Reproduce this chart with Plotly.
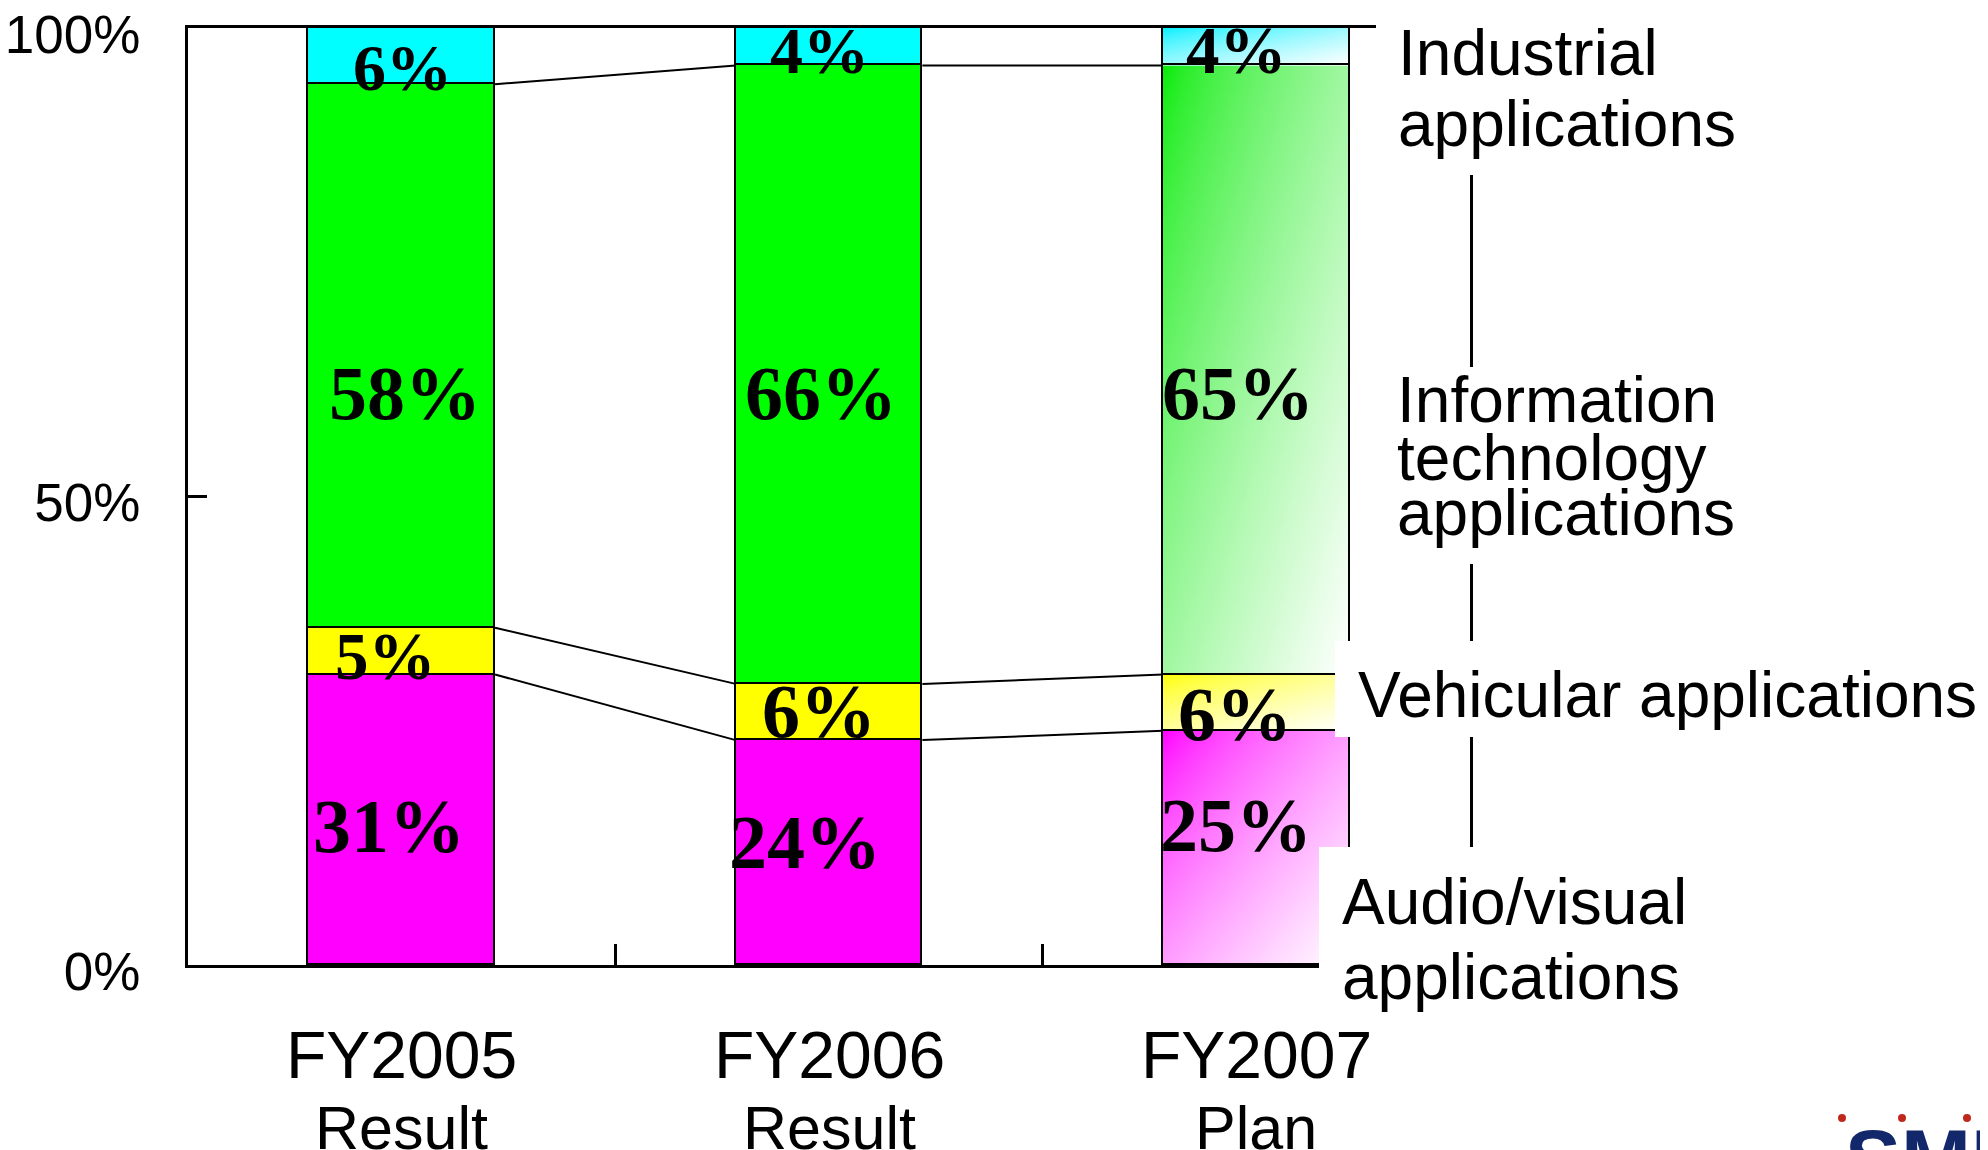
import base64
import struct
import zlib
import plotly.graph_objects as go

# ---------------- data ----------------
categories = ["FY2005", "FY2006", "FY2007"]
sub_labels = ["Result", "Result", "Plan"]
segments = ["Audio/visual applications", "Vehicular applications",
            "Information technology applications", "Industrial applications"]
audio_visual = [31, 24, 25]
vehicular = [5, 6, 6]
info_tech = [58, 66, 65]
industrial = [6, 4, 4]
y_ticks = [0, 50, 100]
y_tick_labels = ["0%", "50%", "100%"]

# label placement (data units / px shifts) - styling, not data
label_y = {
    "audio": [14.8, 13.1, 14.9],
    "vehicular": [33.0, 27.1, 26.8],
    "it": [61.0, 61.0, 61.0],
    "industrial": [95.8, 97.6, 97.6],
}
label_dx = {
    "audio": [-13, -24, -20],
    "vehicular": [-16, -10, -21],
    "it": [3, -8, -18],
    "industrial": [1, -10, -20],
}
label_size = {
    "audio": [76, 76, 76],
    "vehicular": [67, 76, 76],
    "it": [76, 76, 76],
    "industrial": [66, 66, 67],
}

# ---------------- layout geometry (page pixels) ----------------
W, H = 1988, 1150
BODY = 8  # default page margin of the html body
PL, PR, PT, PB = 188, 1470, 28, 965
BAR_W = 0.437


def xp(px):
    return (px - PL) / (PR - PL)


def yp(py):
    return (PB - py) / (PB - PT)


def gradient_png(rgb, w=48, h=96):
    rows = []
    for j in range(h):
        row = bytearray([0])
        for i in range(w):
            t = ((i / (w - 1)) + (j / (h - 1))) / 2.0
            t = t ** 0.7
            for c in rgb:
                row.append(int(round(c + (255 - c) * t)))
        rows.append(bytes(row))
    raw = b"".join(rows)

    def chunk(tag, data):
        return (struct.pack(">I", len(data)) + tag + data +
                struct.pack(">I", zlib.crc32(tag + data) & 0xFFFFFFFF))

    png = (b"\x89PNG\r\n\x1a\n" +
           chunk(b"IHDR", struct.pack(">IIBBBBB", w, h, 8, 2, 0, 0, 0)) +
           chunk(b"IDAT", zlib.compress(raw, 9)) +
           chunk(b"IEND", b""))
    return "data:image/png;base64," + base64.b64encode(png).decode()


series = [
    ("audio", segments[0], audio_visual, "#ff00ff", (255, 0, 255)),
    ("vehicular", segments[1], vehicular, "#ffff00", (255, 255, 0)),
    ("it", segments[2], info_tech, "#00ff00", (10, 235, 10)),
    ("industrial", segments[3], industrial, "#00ffff", (0, 240, 255)),
]

xpos = list(range(len(categories)))
fig = go.Figure()

# stacked bars (FY2007 transparent, gradient drawn as image underneath)
for key, name, vals, col, _ in series:
    colors = [col, col, "rgba(0,0,0,0)"]
    fig.add_trace(go.Bar(
        x=xpos, y=vals, name=name, width=BAR_W,
        marker=dict(color=colors, line=dict(color="black", width=1.6)),
        hoverinfo="skip", showlegend=False,
    ))

# cumulative boundaries
cums = []
run = [0, 0, 0]
for key, name, vals, col, rgb in series:
    bottom = run[:]
    run = [run[i] + vals[i] for i in range(3)]
    cums.append((key, vals, bottom, run[:], rgb))

images = []
for key, vals, bottom, top, rgb in cums:
    images.append(dict(
        source=gradient_png(rgb), xref="x", yref="y",
        x=xpos[2] - BAR_W / 2, y=top[2], sizex=BAR_W, sizey=vals[2],
        xanchor="left", yanchor="top", sizing="stretch", layer="below",
    ))

# connector lines between adjacent bars
for key, vals, bottom, top, rgb in cums[:-1]:
    xs, ys = [], []
    for i in range(2):
        xs += [xpos[i] + BAR_W / 2, xpos[i + 1] - BAR_W / 2, None]
        ys += [top[i], top[i + 1], None]
    fig.add_trace(go.Scatter(x=xs, y=ys, mode="lines",
                             line=dict(color="black", width=2),
                             hoverinfo="skip", showlegend=False))

annotations = []
# value labels
for key, name, vals, col, _ in series:
    for i in range(3):
        annotations.append(dict(
            x=xpos[i], y=label_y[key][i], xref="x", yref="y",
            text=f"{vals[i]}%", showarrow=False, xshift=label_dx[key][i],
            xanchor="center", yanchor="middle",
            font=dict(family="Liberation Serif", size=label_size[key][i],
                      color="black", weight="bold"),
        ))

# category labels (two lines, drawn as annotations above the label boxes)
for i in range(3):
    annotations.append(dict(
        x=xpos[i], y=yp(1082 + 12), xref="x", yref="paper",
        text=categories[i], showarrow=False, xanchor="center", yanchor="bottom",
        font=dict(family="Liberation Sans", size=66, color="black"),
    ))
    annotations.append(dict(
        x=xpos[i], y=yp(1152 + 12), xref="x", yref="paper",
        text=sub_labels[i], showarrow=False, xanchor="center", yanchor="bottom",
        font=dict(family="Liberation Sans", size=61, color="black"),
    ))

# white label boxes on the right
boxes = [
    (1376, 0, W + BODY, 175),
    (1380, 367, W + BODY, 564),
    (1335, 641, W + BODY, 737),
    (1319, 847, W + BODY, H + BODY),
]
shapes = []
for x0, y0, x1, y1 in boxes:
    shapes.append(dict(type="rect", xref="paper", yref="paper",
                       x0=xp(x0), x1=xp(x1), y0=yp(y1), y1=yp(y0),
                       fillcolor="white", line=dict(width=0), layer="above"))

right_lines = [
    ("Industrial", 1396, 79),
    ("applications", 1396, 150),
    ("Information", 1395, 426),
    ("technology", 1395, 484),
    ("applications", 1395, 539),
    ("Vehicular applications", 1356, 721),
    ("Audio/visual", 1340, 928),
    ("applications", 1340, 1003),
]
for text, lx, base in right_lines:
    annotations.append(dict(
        x=xp(lx), y=yp(base + 12), xref="paper", yref="paper", text=text,
        showarrow=False, xanchor="left", yanchor="bottom",
        font=dict(family="Liberation Sans", size=64, color="black"),
    ))

# partial logo at bottom-right corner
annotations.append(dict(
    x=xp(1843), y=yp(1110), xref="paper", yref="paper", text="<b>SMK</b>",
    showarrow=False, xanchor="left", yanchor="top",
    font=dict(family="Liberation Sans", size=84, color="#13286b"),
))
for cx in (1842, 1902, 1967):
    shapes.append(dict(type="circle", xref="paper", yref="paper",
                       x0=xp(cx - 4), x1=xp(cx + 4), y0=yp(1122), y1=yp(1114),
                       fillcolor="#c0281e", line=dict(width=0), layer="above"))

fig.update_layout(
    width=W, height=H, barmode="stack", bargap=0,
    margin=dict(l=PL - BODY, r=W - PR + BODY, t=PT - BODY, b=H - PB + BODY,
                pad=0, autoexpand=False),
    paper_bgcolor="white", plot_bgcolor="rgba(0,0,0,0)",
    showlegend=False, images=images, shapes=shapes, annotations=annotations,
    font=dict(family="Liberation Sans", color="black"),
)
fig.update_xaxes(
    range=[-0.5, 2.5], tickmode="array", tickvals=xpos,
    ticktext=["", "", ""], automargin=False,
    ticks="", showgrid=False, zeroline=False,
    showline=True, linecolor="black", linewidth=3, mirror=True,
    minor=dict(tickmode="array", tickvals=[0.5, 1.5], ticks="inside",
               ticklen=21, tickwidth=2.5, tickcolor="black", showgrid=False),
)
fig.update_yaxes(
    range=[0, 100], tickmode="array", tickvals=y_ticks, ticktext=y_tick_labels,
    ticks="inside", ticklen=19, tickwidth=2.5, tickcolor="black",
    showgrid=False, zeroline=False, automargin=False,
    showline=True, linecolor="black", linewidth=3, mirror=True,
    tickfont=dict(family="Liberation Sans", size=53, color="black"),
    ticklabelstandoff=34, ticklabeloverflow="allow", ticklabelshift=6,
)

fig.write_html("out.html")
